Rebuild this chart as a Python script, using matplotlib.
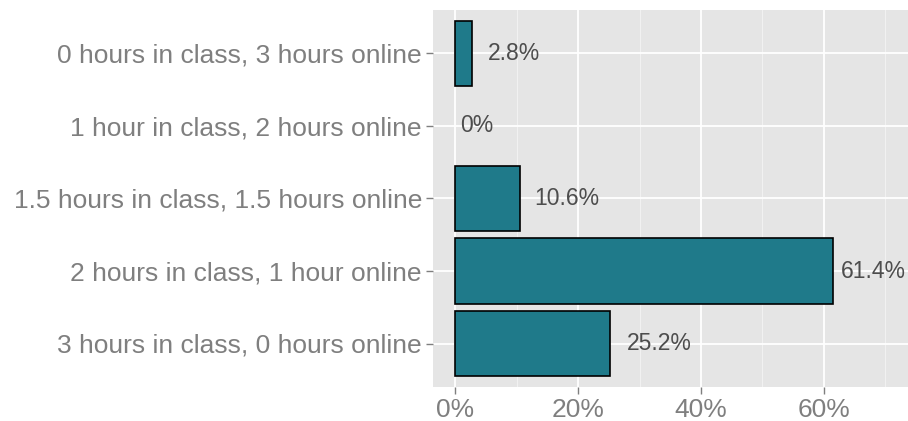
import matplotlib
matplotlib.use("Agg")
import matplotlib.pyplot as plt
from matplotlib.ticker import MultipleLocator, FuncFormatter

categories = [
    "0 hours in class, 3 hours online",
    "1 hour in class, 2 hours online",
    "1.5 hours in class, 1.5 hours online",
    "2 hours in class, 1 hour online",
    "3 hours in class, 0 hours online",
]
values = [2.8, 0.0, 10.6, 61.4, 25.2]
value_labels = ["2.8%", "0%", "10.6%", "61.4%", "25.2%"]
label_offsets_px = [16, 5, 14, 8, 17]  # style: horizontal label offset in pixels

plt.rcParams['font.family'] = ['Liberation Sans', 'DejaVu Sans']

fig = plt.figure(figsize=(9.08, 4.21), dpi=100)
ax = fig.add_axes([433 / 908, 1 - 387 / 421, (908 - 433) / 908, (387 - 10) / 421])
ax.set_facecolor("#E5E5E5")

ypos = list(range(len(categories)))
lws = [1.2 if v > 0 else 0 for v in values]
ax.barh(ypos, values, height=0.9, color="#1F7A8A", edgecolor="black", linewidth=lws, zorder=3)

for y, v, lab, off in zip(ypos, values, value_labels, label_offsets_px):
    ax.annotate(lab, xy=(v, y), xytext=(off * 0.72, 0), textcoords="offset points",
                ha="left", va="center", fontsize=16.5, color="#4D4D4D", zorder=4)

ax.set_xlim(-3.58, 73.66)
ax.set_ylim(4.6, -0.6)
ax.set_yticks(ypos)
ax.set_yticklabels(categories)
ax.xaxis.set_major_locator(MultipleLocator(20))
ax.xaxis.set_minor_locator(MultipleLocator(10))
ax.xaxis.set_major_formatter(FuncFormatter(lambda x, p: f"{x:.0f}%"))

ax.grid(which="major", color="white", linewidth=1.3, zorder=0)
ax.grid(which="minor", axis="x", color="#F2F2F2", linewidth=0.7, zorder=0)
ax.set_axisbelow(True)
for s in ax.spines.values():
    s.set_visible(False)

ax.tick_params(axis="both", which="major", length=5, width=1, color="#7F7F7F",
               labelcolor="#7F7F7F", labelsize=19, pad=3)
ax.tick_params(axis="x", which="minor", length=0)

fig.savefig("out.png", dpi=100)
